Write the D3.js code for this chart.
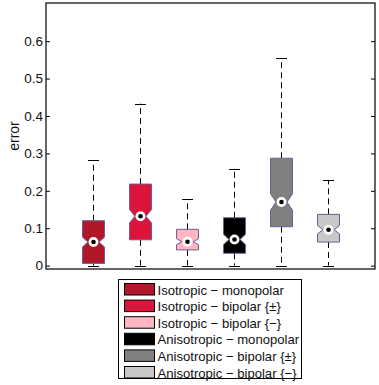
<!DOCTYPE html>
<html lang="en">
<head>
    <meta charset="UTF-8">
    <title>error boxplot</title>
    <script src="https://cdn.jsdelivr.net/npm/d3@7/dist/d3.min.js"></script>
    <style>
        body, html { margin: 0; padding: 0; background: #fff; }
        svg { display: block; font-family: "Liberation Sans", Arial, sans-serif; }
    </style>
</head>
<body>
    <svg id="mainsvg"></svg>
    <script>
        // data
        const groups = ["Isotropic − monopolar", "Isotropic − bipolar {±}", "Isotropic − bipolar {−}",
                        "Anisotropic − monopolar", "Anisotropic − bipolar {±}", "Anisotropic − bipolar {−}"];
        const colors = ["#b0182a", "#dc143c", "#ffb6c1", "#000000", "#808080", "#c8c8c8"];
        const whiskLo = [0, 0, 0, 0, 0, 0];
        const q1 = [0.006, 0.069, 0.042, 0.033, 0.104, 0.063];
        const median = [0.063, 0.132, 0.064, 0.070, 0.170, 0.096];
        const q3 = [0.120, 0.218, 0.097, 0.128, 0.287, 0.137];
        const whiskHi = [0.282, 0.433, 0.178, 0.258, 0.555, 0.228];
        const notch = [0.013, 0.018, 0.008, 0.014, 0.022, 0.011];
        const yTicks = [0, 0.1, 0.2, 0.3, 0.4, 0.5, 0.6];

        const width = 379, height = 385;
        const svg = d3.select("#mainsvg").attr("width", width).attr("height", height);
        svg.append("rect").attr("width", width).attr("height", height).attr("fill", "#fff");

        const plot = { left: 46, right: 375, top: 3, bottom: 269 };
        const x = d3.scaleLinear().domain([0, groups.length + 1]).range([plot.left, plot.right]);
        const y = d3.scaleLinear().domain([-0.009, 0.702]).range([plot.bottom, plot.top]);
        const cx = i => Math.round(x(i + 1)) + 0.5;

        // axes, ticks inside
        const gy = svg.append("g").attr("transform", `translate(${plot.left},0)`)
            .call(d3.axisLeft(y).tickValues(yTicks).tickSize(-4).tickPadding(3).tickFormat(d => String(d)));
        gy.select(".domain").remove();
        gy.selectAll("text").attr("font-size", 13.5).attr("fill", "#111").attr("font-family", "Liberation Sans, Arial, sans-serif");

        const gr = svg.append("g").attr("transform", `translate(${plot.right},0)`)
            .call(d3.axisRight(y).tickValues(yTicks).tickSize(-4).tickFormat(""));
        gr.select(".domain").remove();

        svg.append("rect")
            .attr("x", plot.left).attr("y", plot.top)
            .attr("width", plot.right - plot.left).attr("height", plot.bottom - plot.top)
            .attr("fill", "none").attr("stroke", "#000").attr("stroke-width", 1.2);

        svg.append("text")
            .attr("transform", `translate(19,136) rotate(-90)`)
            .attr("text-anchor", "middle")
            .attr("font-size", 14).attr("fill", "#111")
            .text("error");

        // boxes
        const bw = 22, capW = 11;
        const boxes = svg.append("g").selectAll("g").data(groups).join("g");

        boxes.append("line")
            .attr("x1", (d, i) => cx(i)).attr("x2", (d, i) => cx(i))
            .attr("y1", (d, i) => y(q3[i])).attr("y2", (d, i) => y(whiskHi[i]))
            .attr("stroke", "#000").attr("stroke-dasharray", "6,4");
        boxes.append("line")
            .attr("x1", (d, i) => cx(i)).attr("x2", (d, i) => cx(i))
            .attr("y1", (d, i) => y(q1[i])).attr("y2", (d, i) => y(whiskLo[i]))
            .attr("stroke", "#000").attr("stroke-dasharray", "6,4");
        [whiskHi, whiskLo].forEach(arr => {
            boxes.append("line")
                .attr("x1", (d, i) => cx(i) - capW / 2).attr("x2", (d, i) => cx(i) + capW / 2)
                .attr("y1", (d, i) => Math.round(y(arr[i])) + 0.5).attr("y2", (d, i) => Math.round(y(arr[i])) + 0.5)
                .attr("stroke", "#000");
        });

        boxes.append("path")
            .attr("d", (d, i) => {
                const c = cx(i), l = c - bw / 2, r = c + bw / 2, ind = bw / 4;
                const pts = [
                    [l, y(q1[i])], [l, y(median[i] - notch[i])], [l + ind, y(median[i])], [l, y(median[i] + notch[i])],
                    [l, y(q3[i])], [r, y(q3[i])], [r, y(median[i] + notch[i])], [r - ind, y(median[i])],
                    [r, y(median[i] - notch[i])], [r, y(q1[i])]
                ];
                return d3.line()(pts) + "Z";
            })
            .attr("fill", (d, i) => colors[i])
            .attr("stroke", "#6a5f90").attr("stroke-width", 1);

        boxes.append("circle")
            .attr("cx", (d, i) => cx(i)).attr("cy", (d, i) => y(median[i]))
            .attr("r", 5).attr("fill", "#fff");
        boxes.append("circle")
            .attr("cx", (d, i) => cx(i)).attr("cy", (d, i) => y(median[i]))
            .attr("r", 2.3).attr("fill", "#000");

        // legend
        const leg = svg.append("g");
        leg.append("rect").attr("x", 118.5).attr("y", 279.5).attr("width", 183).attr("height", 99)
            .attr("fill", "#fff").attr("stroke", "#000");
        const rows = leg.selectAll("g.row").data(groups).join("g")
            .attr("class", "row")
            .attr("transform", (d, i) => `translate(0,${283 + i * 16.6})`);
        rows.append("rect").attr("x", 124.5).attr("y", 0.5).attr("width", 30).attr("height", 11.5)
            .attr("fill", (d, i) => colors[i]).attr("stroke", "#000");
        rows.append("text").attr("x", 157.5).attr("y", 11.5)
            .attr("font-size", 13.1).attr("fill", "#111")
            .text(d => d);
    </script>
</body>
</html>
